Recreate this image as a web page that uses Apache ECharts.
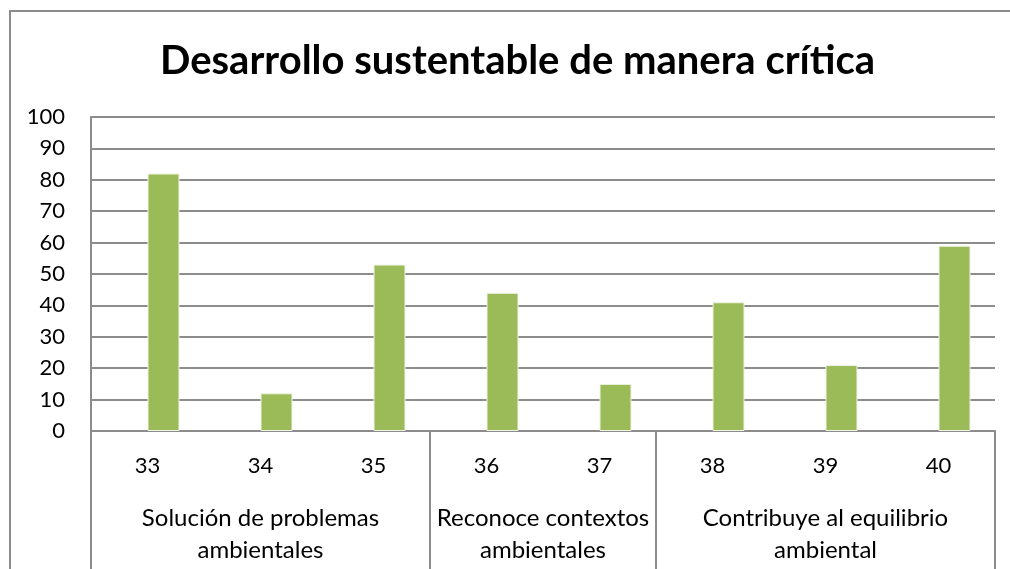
<!DOCTYPE html>
<html>
<head>
<meta charset="utf-8">
<script src="https://cdn.jsdelivr.net/npm/echarts@6/dist/echarts.min.js"></script>
<style>
  html, body { margin: 0; padding: 0; background: #fff; }
  #main { width: 1010px; height: 569px; position: relative; }
  /* marco del gráfico (se sale por la derecha y por abajo) */
  #frame {
    position: absolute; left: 9px; top: 10px; width: 1100px; height: 700px;
    border: 2px solid #8c8c8c; box-sizing: border-box; pointer-events: none;
  }
</style>
</head>
<body>
<div id="main"></div>
<div id="frame"></div>
<script>
// datos
const preguntas = ['33', '34', '35', '36', '37', '38', '39', '40'];
const valores = [82, 12, 53, 44, 15, 41, 21, 59];
const serieVacia = []; // en el original hay una serie sin datos a la izquierda de cada barra
const grupos = ['Solución de problemas\nambientales', 'Reconoce contextos\nambientales', 'Contribuye al equilibrio\nambiental'];
const tamGrupos = [3, 2, 3];
const ticksY = [0, 10, 20, 30, 40, 50, 60, 70, 80, 90, 100];

// indices donde empieza cada grupo (para las lineas separadoras)
const inicios = [];
let acc = 0;
tamGrupos.forEach(n => { inicios.push(acc); acc += n; });

// eje auxiliar en medias categorias para centrar los nombres de grupo
const medias = new Array(preguntas.length * 2 + 1).fill('');
acc = 0;
tamGrupos.forEach((n, i) => { medias[acc * 2 + n] = grupos[i]; acc += n; });

const gris = '#8c8c8c';
const fuente = 'Lato, "Liberation Sans", sans-serif';

let myChart = echarts.init(document.getElementById('main'));
myChart.setOption({
  animation: false,
  textStyle: { fontFamily: fuente },
  title: {
    text: 'Desarrollo sustentable de manera crítica',
    left: 160,
    top: 41,
    padding: 0,
    textStyle: { fontSize: 40, fontWeight: 'bold', color: '#000', fontFamily: fuente }
  },
  grid: { left: 91, right: 15, top: 117, bottom: 138 },
  xAxis: [
    {
      type: 'category',
      data: preguntas,
      axisLine: { lineStyle: { color: gris, width: 2 } },
      axisTick: {
        show: true,
        length: 140,
        interval: (idx) => inicios.indexOf(idx) >= 0,
        lineStyle: { color: gris, width: 2 }
      },
      axisLabel: { color: '#000', fontSize: 22, margin: 24, interval: 0 }
    },
    {
      type: 'category',
      position: 'bottom',
      boundaryGap: false,
      data: medias,
      axisLine: { show: false },
      axisTick: { show: false },
      axisLabel: { color: '#000', fontSize: 24, margin: 71, interval: 0, lineHeight: 32 }
    }
  ],
  yAxis: {
    type: 'value',
    min: ticksY[0],
    max: ticksY[ticksY.length - 1],
    interval: 10,
    axisLine: { show: true, lineStyle: { color: gris, width: 2 } },
    axisTick: { show: false },
    axisLabel: { color: '#000', fontSize: 22, margin: 26 },
    splitLine: { lineStyle: { color: gris, width: 2 } }
  },
  series: [
    {
      type: 'bar',
      data: serieVacia,
      barWidth: 32,
      barGap: '0%'
    },
    {
      type: 'bar',
      data: valores,
      barWidth: 32,
      barGap: '0%',
      itemStyle: { color: '#9bbb59', borderColor: '#eef3e2', borderWidth: 1 }
    }
  ]
});
</script>
</body>
</html>
